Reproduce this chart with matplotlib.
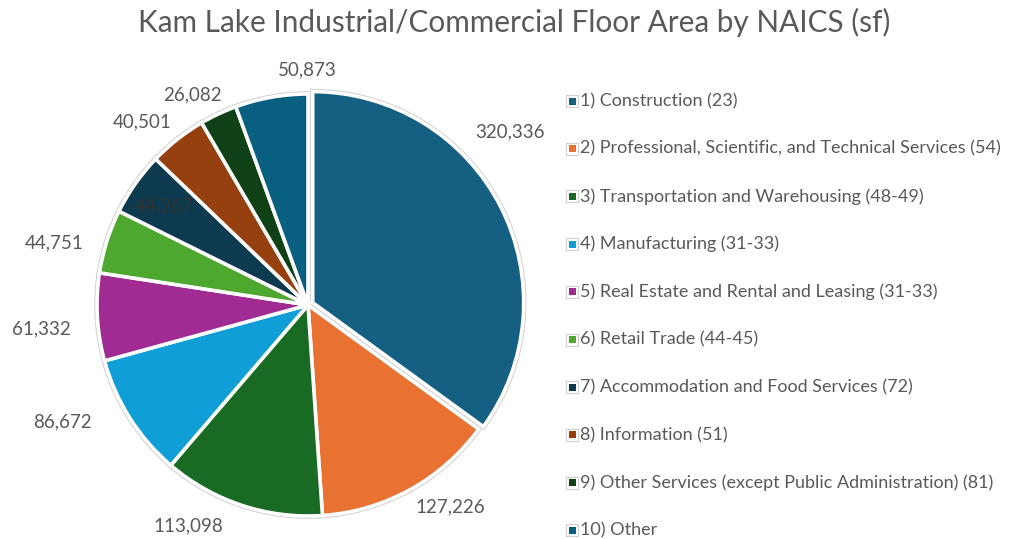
import matplotlib.pyplot as plt
from matplotlib.patches import Rectangle
import numpy as np

title = 'Kam Lake Industrial/Commercial Floor Area by NAICS (sf)'
categories = [
    '1) Construction (23)',
    '2) Professional, Scientific, and Technical Services (54)',
    '3) Transportation and Warehousing (48-49)',
    '4) Manufacturing (31-33)',
    '5) Real Estate and Rental and Leasing (31-33)',
    '6) Retail Trade (44-45)',
    '7) Accommodation and Food Services (72)',
    '8) Information (51)',
    '9) Other Services (except Public Administration) (81)',
    '10) Other',
]
values = [320336, 127226, 113098, 86672, 61332, 44751, 44267, 40501, 26082, 50873]
colors = ['#156082', '#e97132', '#196b24', '#0f9ed5', '#a02b93',
          '#4ea72e', '#0d3a4f', '#97400f', '#0f4016', '#095f80']
explode = [0.025, 0, 0, 0, 0, 0, 0, 0, 0, 0]

# label placement: (radius factor, angle in degrees) around the pie
label_r = [1.26, 1.17, 1.19, 1.287, 1.27, 1.24, 0.828, 1.171, 1.137, 1.114]
label_ang = [40.7, -54.9, -118.5, -154.5, -174.8, 166.3, 145.5, 132.2, 118.9, 90.2]

W, H = 1034, 539
fig = plt.figure(figsize=(W / 100, H / 100), dpi=100)
text_col = '#595959'
plt.rcParams['font.family'] = ['Lato', 'DejaVu Sans']

# pie centre at (308, 305) px, radius 211 px
cx, cy, R = 308, 305, 211
ax_left, ax_right, ax_top, ax_bot = 0, 640, 50, 539
ax = fig.add_axes([ax_left / W, (H - ax_bot) / H, (ax_right - ax_left) / W, (ax_bot - ax_top) / H])

for ec, lw in [('#d0d0d0', 4.0), ('white', 2.6)]:
    ax.pie(values, colors=colors, startangle=90, counterclock=False, explode=explode,
           wedgeprops=dict(edgecolor=ec, linewidth=lw))

ax.set_aspect('auto')
ax.set_xlim((ax_left - cx) / R, (ax_right - cx) / R)
ax.set_ylim((cy - ax_bot) / R, (cy - ax_top) / R)
ax.axis('off')

for v, r, a, i in zip(values, label_r, label_ang, range(len(values))):
    t = np.deg2rad(a)
    col = '#333333' if i == 6 else text_col
    ax.text(r * np.cos(t), r * np.sin(t), f'{v:,}', ha='center', va='center',
            fontsize=13.5, color=col, clip_on=False)

fig.text(514 / W, 1 - 22 / H, title, ha='center', va='center', fontsize=21.4,
         color=text_col)

# legend
y0, step = 101, 47.7
for i, (lab, c) in enumerate(zip(categories, colors)):
    y = y0 + i * step
    fig.patches.append(Rectangle(((566) / W, 1 - (y + 6) / H), 12 / W, 12 / H,
                                 transform=fig.transFigure, facecolor='white',
                                 edgecolor='#d0d0d0', linewidth=0.8))
    fig.patches.append(Rectangle(((568.5) / W, 1 - (y + 3.5) / H), 7 / W, 7 / H,
                                 transform=fig.transFigure, facecolor=c,
                                 edgecolor='none'))
    fig.text(580 / W, 1 - y / H, lab, ha='left', va='center', fontsize=13,
             color=text_col)

fig.savefig('out.png', dpi=100, facecolor='white')
